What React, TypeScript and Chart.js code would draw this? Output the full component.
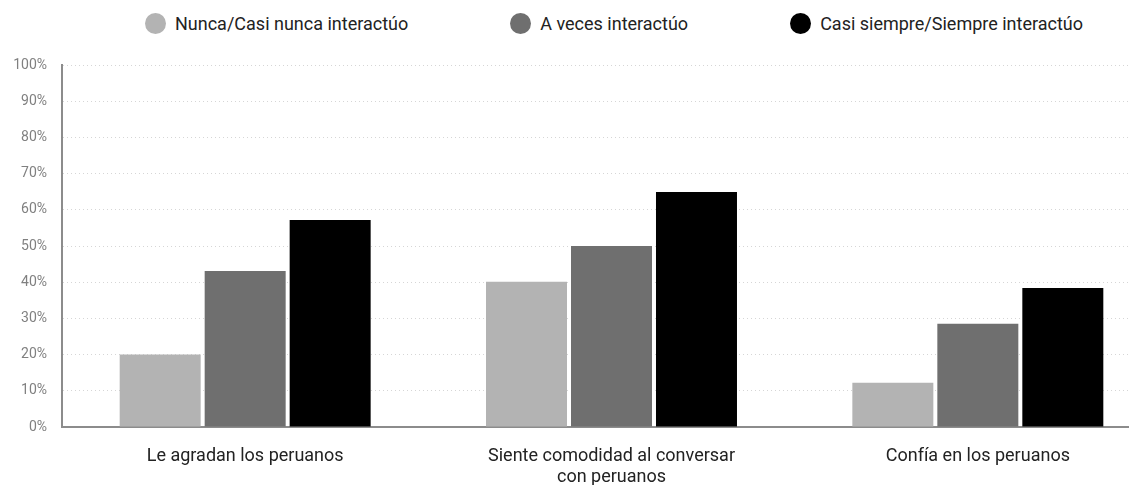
import React, { useEffect, useRef } from "react";
import { Chart, registerables } from "chart.js";

Chart.register(...registerables);

const categories: (string | string[])[] = [
  "Le agradan los peruanos",
  ["Siente comodidad al conversar", "con peruanos"],
  "Confía en los peruanos",
];
const seriesNames = [
  "Nunca/Casi nunca interactúo",
  "A veces interactúo",
  "Casi siempre/Siempre interactúo",
];
const seriesColors = ["#b3b3b3", "#6f6f6f", "#000000"];
const nuncaValues = [20.0, 40.1, 12.2];
const aVecesValues = [43.1, 50.0, 28.5];
const casiSiempreValues = [57.2, 64.9, 38.4];
const yTickMin = 0;
const yTickMax = 100;
const yTickStep = 10;

const FONT = "Roboto, 'Noto Sans', sans-serif";

export default function App() {
  const canvasRef = useRef<HTMLCanvasElement | null>(null);

  useEffect(() => {
    if (!canvasRef.current) return;
    const seriesValues = [nuncaValues, aVecesValues, casiSiempreValues];
    const chart = new Chart(canvasRef.current, {
      type: "bar",
      data: {
        labels: categories,
        datasets: seriesNames.map((name, i) => ({
          label: name,
          data: seriesValues[i],
          backgroundColor: seriesColors[i],
          borderWidth: 0,
          categoryPercentage: 0.696,
          barPercentage: 0.953,
        })),
      },
      options: {
        animation: false,
        responsive: true,
        maintainAspectRatio: false,
        layout: { padding: { top: 65, left: 0, right: 0, bottom: 0 } },
        plugins: {
          legend: { display: false },
          tooltip: { enabled: false },
        },
        scales: {
          x: {
            grid: { display: false, drawTicks: false },
            border: { display: true, color: "#8c8c8c", width: 2 },
            ticks: {
              padding: 19,
              color: "#222222",
              autoSkip: false,
              maxRotation: 0,
              font: { family: FONT, size: 18, lineHeight: 1.15 },
            },
            afterFit: (s: any) => {
              s.height = 58;
            },
          },
          y: {
            min: yTickMin,
            max: yTickMax,
            grid: { color: "#d6d6d6", lineWidth: 1, drawTicks: false },
            border: { display: true, color: "#8c8c8c", width: 2, dash: [1, 3] },
            ticks: {
              stepSize: yTickStep,
              padding: 15,
              color: "#808080",
              font: { family: FONT, size: 14 },
              callback: (v: any) => v + "%",
            },
            afterFit: (s: any) => {
              s.width = 62;
            },
          },
        },
      },
    });
    return () => chart.destroy();
  }, []);

  return (
    <div
      style={{
        position: "absolute",
        left: 0,
        top: 0,
        width: 1129,
        height: 485,
        overflow: "hidden",
        background: "#ffffff",
      }}
    >
      <div
        style={{
          position: "absolute",
          left: 0,
          top: 13,
          width: 1228,
          height: 21,
          display: "flex",
          justifyContent: "center",
          alignItems: "center",
          gap: 102,
          fontFamily: FONT,
          fontSize: 18,
          color: "#222222",
        }}
      >
        {seriesNames.map((name, i) => (
          <div key={name} style={{ display: "flex", alignItems: "center", whiteSpace: "nowrap" }}>
            <span
              style={{
                display: "inline-block",
                width: 21,
                height: 21,
                borderRadius: "50%",
                background: seriesColors[i],
                marginRight: 9,
              }}
            />
            <span>{name}</span>
          </div>
        ))}
      </div>
      <div style={{ position: "absolute", left: 0, top: 0, width: 1161, height: 485 }}>
        <canvas ref={canvasRef} />
      </div>
    </div>
  );
}
